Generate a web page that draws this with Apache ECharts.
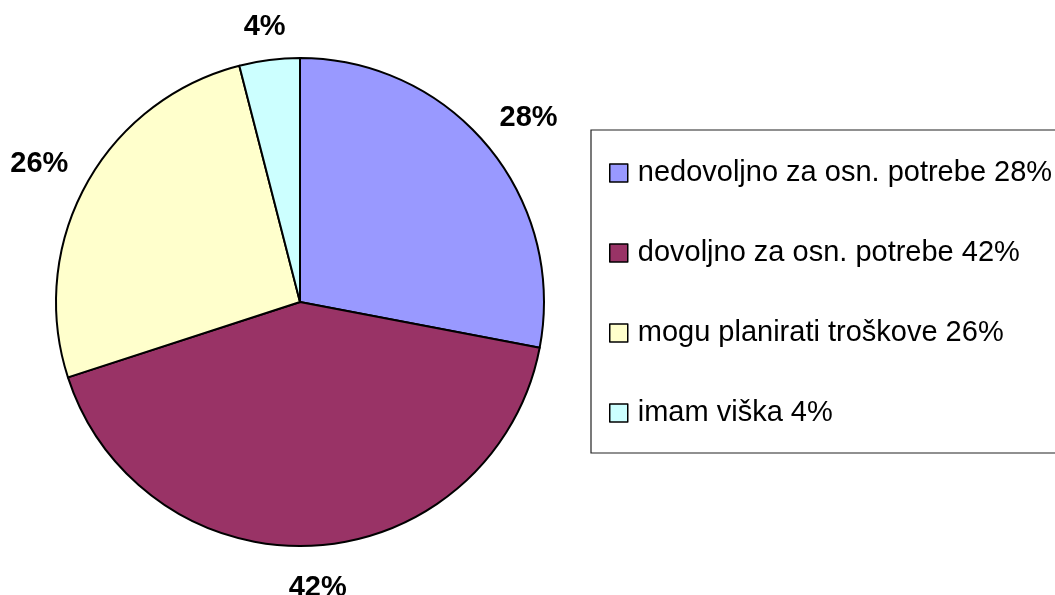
<!DOCTYPE html>
<html>
<head>
<meta charset="utf-8">
<script src="https://cdn.jsdelivr.net/npm/echarts@6/dist/echarts.min.js"></script>
<style>
html,body{margin:0;padding:0;background:#fff;}
#chart{width:1055px;height:595px;}
</style>
</head>
<body>
<div id="chart"></div>
<script>
const categories = ['nedovoljno za osn. potrebe', 'dovoljno za osn. potrebe', 'mogu planirati troškove', 'imam viška'];
const values = [28, 42, 26, 4];
const colors = ['#9999FF', '#993366', '#FFFFCC', '#CCFFFF'];

const FONT = '"Liberation Sans", Arial, sans-serif';
const CX = 300, CY = 302, R = 244, LABEL_GAP = 21, GLYPH_SHIFT = 5;
const pieData = categories.map((c, i) => ({ name: c, value: values[i], itemStyle: { color: colors[i] } }));
const labelData = categories.map((c, i) => ({ name: c, value: values[i] }));

const chart = echarts.init(document.getElementById('chart'), null, { renderer: 'canvas' });
chart.setOption({
  backgroundColor: '#ffffff',
  animation: false,
  legend: {
    orient: 'vertical',
    left: 591,
    top: 130,
    padding: [28, 80, 25, 18],
    itemGap: 50,
    itemWidth: 18,
    itemHeight: 18,
    icon: 'rect',
    borderColor: '#222',
    borderWidth: 1.2,
    itemStyle: { borderColor: '#000', borderWidth: 1.5 },
    data: categories,
    formatter: function (name) {
      const i = categories.indexOf(name);
      return name + ' ' + values[i] + '%';
    },
    textStyle: { fontFamily: FONT, fontSize: 29, color: '#000', lineHeight: 30, padding: [0, 0, 0, 5] }
  },
  series: [
    {
      type: 'pie',
      center: [CX, CY],
      radius: R,
      startAngle: 90,
      clockwise: true,
      silent: true,
      label: { show: false },
      labelLine: { show: false },
      itemStyle: { borderColor: '#000', borderWidth: 2 },
      emphasis: { disabled: true },
      data: pieData
    },
    {
      type: 'pie',
      center: [CX, CY],
      radius: [R + 20, R + 50],
      startAngle: 90,
      clockwise: true,
      silent: true,
      itemStyle: { color: 'rgba(0,0,0,0)', borderWidth: 0 },
      emphasis: { disabled: true },
      labelLine: { show: false },
      label: {
        show: true,
        position: 'inside',
        formatter: '{c}%',
        fontFamily: FONT,
        fontSize: 29,
        fontWeight: 'bold',
        color: '#000'
      },
      labelLayout: function (params) {
        const rc = params.labelRect;
        const lx = rc.x + rc.width / 2, ly = rc.y + rc.height / 2;
        const vx = lx - CX, vy = ly - CY;
        const n = Math.sqrt(vx * vx + vy * vy) || 1;
        const ux = vx / n, uy = vy / n;
        const ext = Math.abs(ux) * rc.width / 2 + Math.abs(uy) * rc.height / 2;
        const d = R + LABEL_GAP + ext;
        return { x: CX + ux * d, y: CY + uy * d + GLYPH_SHIFT, align: 'center', verticalAlign: 'middle' };
      },
      data: labelData
    }
  ]
});
</script>
</body>
</html>
